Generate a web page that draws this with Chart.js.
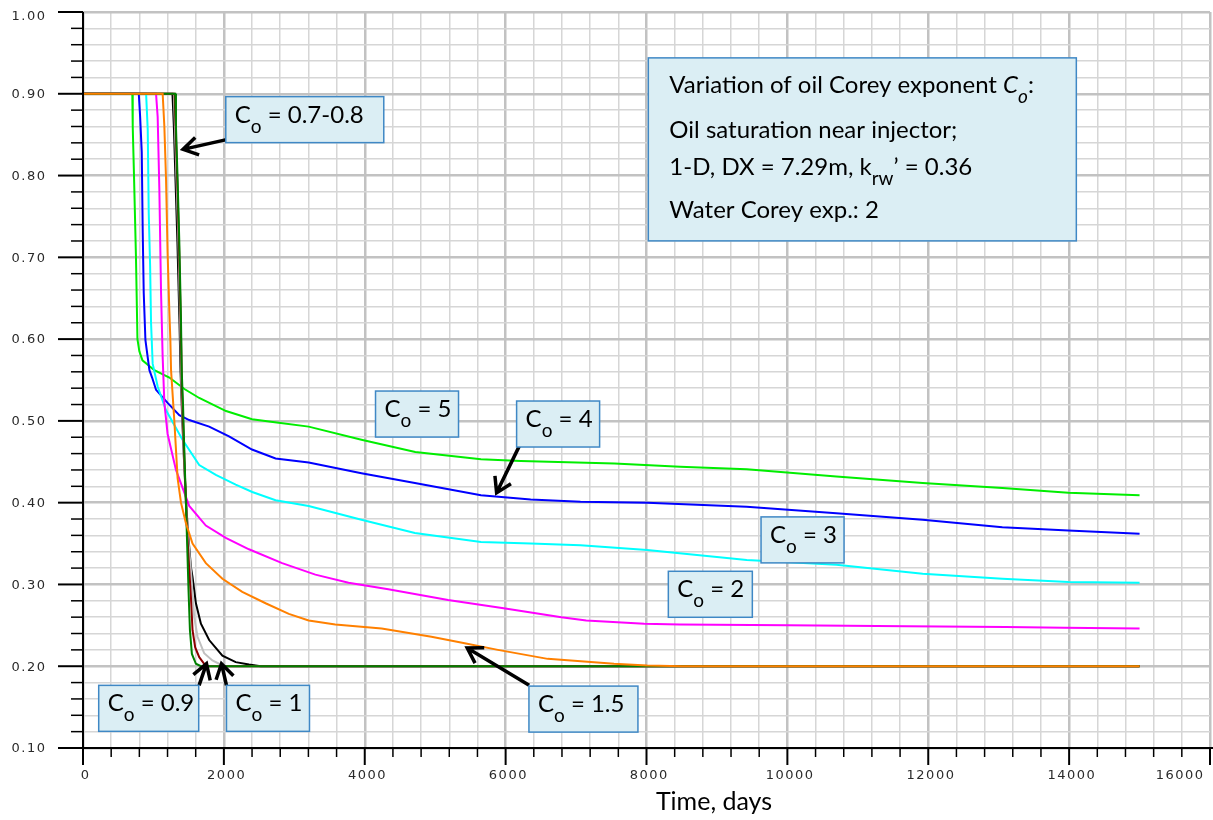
<!DOCTYPE html>
<html>
<head>
<meta charset="utf-8">
<script src="https://cdn.jsdelivr.net/npm/chart.js@4.4.1/dist/chart.umd.min.js"></script>
<style>
  html, body { margin: 0; padding: 0; background: #fff; }
  #wrap { width: 1213px; height: 820px; }
</style>
</head>
<body>
<div id="wrap"><canvas id="satChart" width="1213" height="820"></canvas></div>
<script>
// Oil saturation near the injector vs time, one curve per oil Corey exponent.
// Each series is a list of [days, saturation] pairs.
const co5 = [[0, 0.90], [700, 0.90], [706, 0.86], [724, 0.80], [752, 0.70], [773, 0.60], [800, 0.585],
  [844, 0.574], [1013, 0.562], [1226, 0.553], [1440, 0.539], [1650, 0.528], [2031, 0.512], [2400, 0.502],
  [2750, 0.498], [3204, 0.493], [3953, 0.477], [4717, 0.462], [5650, 0.453], [6215, 0.451], [7544, 0.448],
  [8477, 0.444], [9423, 0.441], [10695, 0.432], [11921, 0.424], [13052, 0.418], [13989, 0.412], [15000, 0.409]];

const co4 = [[0, 0.90], [792, 0.90], [811, 0.872], [834, 0.829], [848, 0.73], [862, 0.657], [886, 0.599],
  [943, 0.562], [981, 0.553], [1037, 0.538], [1201, 0.522], [1367, 0.507], [1508, 0.501], [1791, 0.493],
  [2073, 0.481], [2399, 0.465], [2734, 0.454], [3204, 0.449], [3953, 0.436], [4712, 0.424], [5650, 0.409],
  [6356, 0.404], [7063, 0.401], [8010, 0.400], [9423, 0.395], [10695, 0.387], [11921, 0.379], [13052, 0.370],
  [13989, 0.366], [15000, 0.362]];

const co3 = [[0, 0.90], [896, 0.90], [919, 0.856], [933, 0.755], [953, 0.689], [966, 0.62], [989, 0.57],
  [1060, 0.542], [1179, 0.513], [1413, 0.477], [1650, 0.446], [1886, 0.434], [2168, 0.422], [2403, 0.413],
  [2734, 0.403], [3204, 0.396], [3953, 0.379], [4712, 0.363], [5650, 0.352], [6356, 0.350], [7063, 0.348],
  [8010, 0.342], [9423, 0.330], [10695, 0.324], [11921, 0.313], [13052, 0.307], [13989, 0.303], [15000, 0.302]];

const co2 = [[0, 0.90], [1037, 0.90], [1060, 0.872], [1084, 0.783], [1108, 0.657], [1131, 0.578],
  [1155, 0.522], [1201, 0.484], [1320, 0.440], [1508, 0.396], [1744, 0.372], [2027, 0.357], [2356, 0.343],
  [2827, 0.326], [3299, 0.312], [3770, 0.302], [4335, 0.294], [5183, 0.281], [5972, 0.271], [6792, 0.260],
  [7144, 0.256], [7968, 0.252], [8473, 0.251], [10000, 0.250], [11697, 0.249], [13099, 0.248], [13932, 0.247],
  [15000, 0.246]];

const co15 = [[0, 0.90], [1131, 0.90], [1155, 0.86], [1179, 0.795], [1201, 0.706], [1225, 0.636], [1240, 0.60],
  [1250, 0.562], [1296, 0.501], [1343, 0.43], [1391, 0.40], [1461, 0.375], [1555, 0.35], [1744, 0.326],
  [1979, 0.307], [2261, 0.291], [2592, 0.277], [2922, 0.264], [3204, 0.256], [3582, 0.251], [4240, 0.246],
  [4947, 0.236], [5419, 0.228], [5890, 0.220], [6597, 0.209], [7539, 0.203], [8010, 0.201], [8500, 0.200],
  [15000, 0.200]];

const co07 = [[0, 0.90], [1310, 0.90], [1320, 0.86], [1343, 0.795], [1367, 0.72], [1391, 0.624], [1402, 0.56],
  [1420, 0.52], [1437, 0.468], [1461, 0.40], [1484, 0.334], [1498, 0.293], [1518, 0.244], [1546, 0.215],
  [1603, 0.203], [1674, 0.200], [15000, 0.200]];

const co08 = [[0, 0.90], [1300, 0.90], [1315, 0.86], [1340, 0.79], [1362, 0.72], [1388, 0.62], [1402, 0.55],
  [1420, 0.50], [1440, 0.45], [1470, 0.38], [1500, 0.33], [1532, 0.285], [1555, 0.244], [1593, 0.223],
  [1650, 0.211], [1720, 0.203], [1767, 0.200], [15000, 0.200]];

const co09 = [[0, 0.90], [1290, 0.90], [1305, 0.86], [1330, 0.79], [1355, 0.72], [1380, 0.62], [1395, 0.55],
  [1415, 0.50], [1440, 0.44], [1480, 0.37], [1532, 0.317], [1579, 0.260], [1626, 0.236], [1720, 0.216],
  [1837, 0.207], [1932, 0.203], [2003, 0.200], [15000, 0.200]];

const co1 = [[0, 0.90], [1270, 0.90], [1290, 0.86], [1315, 0.79], [1340, 0.72], [1370, 0.62], [1385, 0.56],
  [1410, 0.50], [1440, 0.44], [1485, 0.37], [1532, 0.321], [1555, 0.309], [1603, 0.277], [1674, 0.252],
  [1791, 0.232], [1979, 0.213], [2168, 0.205], [2356, 0.202], [2522, 0.200], [15000, 0.200]];

const xTickLabels = [0, 2000, 4000, 6000, 8000, 10000, 12000, 14000, 16000];
const yTickLabels = [0.10, 0.20, 0.30, 0.40, 0.50, 0.60, 0.70, 0.80, 0.90, 1.00];

// first entry is drawn on top
const series = [
  { label: "Co = 1.5", data: co15, color: "#ff8000" },
  { label: "Co = 0.7", data: co07, color: "#008000" },
  { label: "Co = 0.8", data: co08, color: "#8b0000" },
  { label: "Co = 0.9", data: co09, color: "#c0c0c0" },
  { label: "Co = 1", data: co1, color: "#000000" },
  { label: "Co = 2", data: co2, color: "#ff00ff" },
  { label: "Co = 3", data: co3, color: "#00ffff" },
  { label: "Co = 4", data: co4, color: "#0000ff" },
  { label: "Co = 5", data: co5, color: "#00ee00" },
];

// call-out boxes: top-left corner in data units, arrow from/to in data units
const notes = [
  { x: 2027, y: 0.8965, w: 158, tail: " = 0.7-0.8", arrow: [2037, 0.8439, 1420, 0.832] },
  { x: 4153, y: 0.5365, w: 83, tail: " = 5" },
  { x: 6156, y: 0.5243, w: 83, tail: " = 4", arrow: [6213, 0.4725, 5872, 0.412] },
  { x: 9626, y: 0.3826, w: 83, tail: " = 3" },
  { x: 8310, y: 0.3161, w: 84, tail: " = 2" },
  { x: 6331, y: 0.1757, w: 109, tail: " = 1.5", arrow: [6334, 0.1766, 5455, 0.2223] },
  { x: 223, y: 0.1766, w: 100, tail: " = 0.9", arrow: [1648, 0.1766, 1753, 0.2031] },
  { x: 2037, y: 0.1766, w: 83, tail: " = 1", arrow: [2037, 0.1766, 1966, 0.2031] },
];

const isMajorX = v => v % 2000 === 0;
const isMajorY = v => Math.round(v * 100) % 10 === 0;

const MAIN_FONT = "24px Lato";
const SUB_FONT = "19px Lato";
const BOX_FILL = "#dbeef4";
const BOX_EDGE = "#3f88c5";

function drawArrow(ctx, x1, y1, x2, y2) {
  const a = Math.atan2(y2 - y1, x2 - x1), h = 17, s = 0.55;
  ctx.beginPath();
  ctx.moveTo(x1, y1);
  ctx.lineTo(x2, y2);
  ctx.moveTo(x2 - h * Math.cos(a - s), y2 - h * Math.sin(a - s));
  ctx.lineTo(x2, y2);
  ctx.lineTo(x2 - h * Math.cos(a + s), y2 - h * Math.sin(a + s));
  ctx.stroke();
}

// "C" with subscript "o", then the rest of the text
function drawCo(ctx, x, y, tail, italic) {
  const it = italic ? "italic " : "";
  ctx.font = it + MAIN_FONT;
  ctx.fillText("C", x, y);
  x += ctx.measureText("C").width;
  ctx.font = it + SUB_FONT;
  ctx.fillText("o", x, y + 10);
  x += ctx.measureText("o").width;
  ctx.font = MAIN_FONT;
  ctx.fillText(tail, x, y);
  return x + ctx.measureText(tail).width;
}

function drawBox(ctx, x, y, w, h) {
  ctx.fillStyle = BOX_FILL;
  ctx.fillRect(x, y, w, h);
  ctx.strokeStyle = BOX_EDGE;
  ctx.lineWidth = 1.5;
  ctx.strokeRect(x, y, w, h);
}

const axisPlugin = {
  id: "axes",
  afterDatasetsDraw(chart) {
    const ctx = chart.ctx;
    const { left, right, top, bottom } = chart.chartArea;
    const xs = chart.scales.x, ys = chart.scales.y;
    ctx.save();
    ctx.strokeStyle = "#000";
    ctx.lineWidth = 2;
    ctx.beginPath();
    ctx.moveTo(left, top);
    ctx.lineTo(left, bottom + 17);
    ctx.moveTo(left - 25, bottom);
    ctx.lineTo(chart.width, bottom);
    ctx.stroke();

    ys.ticks.forEach(t => {
      const y = ys.getPixelForValue(t.value);
      const major = isMajorY(t.value);
      ctx.lineWidth = major ? 2 : 1.5;
      ctx.beginPath();
      ctx.moveTo(left - (major ? 25 : 12), y);
      ctx.lineTo(left, y);
      ctx.stroke();
    });
    xs.ticks.forEach(t => {
      const x = xs.getPixelForValue(t.value);
      const major = isMajorX(t.value);
      ctx.lineWidth = major ? 2 : 1.5;
      ctx.beginPath();
      ctx.moveTo(x, bottom);
      ctx.lineTo(x, bottom + (major ? 17 : 9));
      ctx.stroke();
    });

    // tick labels
    const ls = 1.5;
    ctx.fillStyle = "#2a2a2a";
    ctx.font = "13px 'DejaVu Sans'";
    ctx.letterSpacing = ls + "px";
    ctx.textBaseline = "middle";
    ctx.textAlign = "left";
    yTickLabels.forEach(v => {
      const txt = v.toFixed(2);
      const w = ctx.measureText(txt).width - ls;
      const y = Math.max(17, ys.getPixelForValue(v) + 1);
      ctx.fillText(txt, 45 - w, y);
    });
    xTickLabels.forEach(v => {
      const txt = String(v);
      const w = ctx.measureText(txt).width - ls;
      let x = xs.getPixelForValue(v) - w / 2 + 2;
      x = Math.min(x, chart.width - 10 - w);
      ctx.fillText(txt, x, bottom + 28);
    });
    ctx.letterSpacing = "0px";

    // axis title
    ctx.fillStyle = "#000";
    ctx.font = "25px Lato";
    ctx.textAlign = "center";
    ctx.textBaseline = "alphabetic";
    ctx.fillText("Time, days", 714, 810);
    ctx.restore();
  },
  afterDraw(chart) {
    const ctx = chart.ctx;
    const xs = chart.scales.x, ys = chart.scales.y;
    ctx.save();
    ctx.textBaseline = "alphabetic";
    ctx.textAlign = "left";

    notes.forEach(n => {
      const bx = xs.getPixelForValue(n.x), by = ys.getPixelForValue(n.y);
      if (n.arrow) {
        ctx.strokeStyle = "#000";
        ctx.lineWidth = 3.5;
        ctx.lineJoin = "miter";
        drawArrow(ctx, xs.getPixelForValue(n.arrow[0]), ys.getPixelForValue(n.arrow[1]),
          xs.getPixelForValue(n.arrow[2]), ys.getPixelForValue(n.arrow[3]));
      }
      drawBox(ctx, bx, by, n.w, 46);
      ctx.fillStyle = "#000";
      drawCo(ctx, bx + 9, by + 26, n.tail, false);
    });

    // description box
    const lx = xs.getPixelForValue(8026), ly = ys.getPixelForValue(0.9439);
    drawBox(ctx, lx, ly, 428, 183);
    ctx.fillStyle = "#000";
    const tx = lx + 21;
    ctx.font = MAIN_FONT;
    ctx.fillText("Variation of oil Corey exponent ", tx, ly + 35);
    drawCo(ctx, tx + ctx.measureText("Variation of oil Corey exponent ").width, ly + 35, ":", true);
    ctx.font = MAIN_FONT;
    ctx.fillText("Oil saturation near injector;", tx, ly + 80);
    const pre = "1-D, DX = 7.29m, k";
    ctx.fillText(pre, tx, ly + 117);
    let x3 = tx + ctx.measureText(pre).width;
    ctx.font = SUB_FONT;
    ctx.fillText("rw", x3, ly + 127);
    x3 += ctx.measureText("rw").width;
    ctx.font = MAIN_FONT;
    ctx.fillText("\u2019 = 0.36", x3, ly + 117);
    ctx.fillText("Water Corey exp.: 2", tx, ly + 160);
    ctx.restore();
  }
};

new Chart(document.getElementById("satChart"), {
  type: "line",
  data: {
    datasets: series.map(s => ({
      label: s.label,
      data: s.data.map(p => ({ x: p[0], y: p[1] })),
      borderColor: s.color,
      borderWidth: 2,
      pointRadius: 0,
      tension: 0,
      fill: false,
    })),
  },
  options: {
    responsive: false,
    animation: false,
    layout: { padding: { top: 12, right: 3, left: 0, bottom: 0 } },
    plugins: {
      legend: { display: false },
      tooltip: { enabled: false },
    },
    scales: {
      x: {
        type: "linear",
        min: 0,
        max: 16000,
        afterBuildTicks: s => {
          s.ticks = [];
          for (let v = 0; v <= 16000; v += 400) s.ticks.push({ value: v });
        },
        afterFit: s => { s.height = 72; },
        ticks: { display: false },
        border: { display: false },
        grid: {
          drawTicks: false,
          color: c => (c.tick && isMajorX(c.tick.value)) ? "#c2c2c2" : "#d6d6d6",
          lineWidth: c => (c.tick && isMajorX(c.tick.value)) ? 2.5 : 1.5,
        },
      },
      y: {
        type: "linear",
        min: 0.1,
        max: 1.0,
        afterBuildTicks: s => {
          s.ticks = [];
          for (let i = 0; i <= 45; i++) s.ticks.push({ value: Math.round((0.1 + i * 0.02) * 100) / 100 });
        },
        afterFit: s => { s.width = 83; },
        ticks: { display: false },
        border: { display: false },
        grid: {
          drawTicks: false,
          color: c => (c.tick && isMajorY(c.tick.value)) ? "#c2c2c2" : "#d6d6d6",
          lineWidth: c => (c.tick && isMajorY(c.tick.value)) ? 2.5 : 1.5,
        },
      },
    },
  },
  plugins: [axisPlugin],
});
</script>
</body>
</html>
